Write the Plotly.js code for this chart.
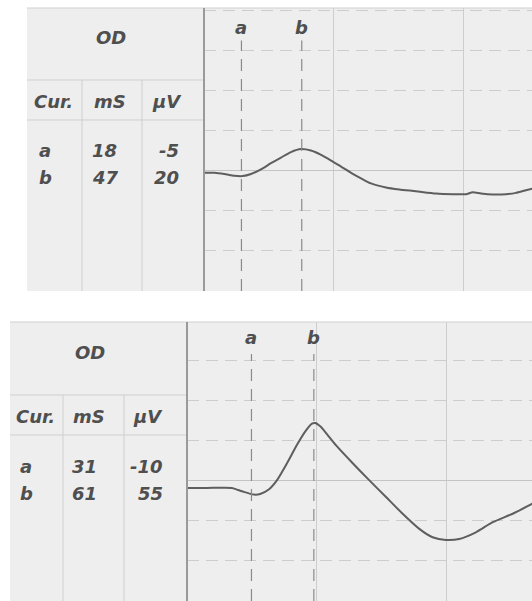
<!DOCTYPE html>
<html>
<head>
<meta charset="utf-8">
<script src="https://cdn.plot.ly/plotly-3.0.1.min.js"></script>
<style>
html,body{margin:0;padding:0;background:#ffffff;}
#chart{width:532px;height:601px;}
</style>
</head>
<body>
<div id="chart"></div>
<script>
// ---------- data ----------
const eyeLabel = 'OD';
const tableHeaders = ['Cur.', 'mS', 'µV'];
const cursorNames = ['a', 'b'];

// top recording
const topCursorMs = [18, 47];
const topCursorUv = [-5, 20];
const topTimeMs = [0, 5, 9.8, 14.6, 18.6, 22.6, 27.4, 32.2, 37.0, 41.8, 46.6, 51.4, 56.3, 61.1, 65.9, 70.7, 75.5, 80.3, 87.5, 93.9, 101.9, 111.5, 119.6, 126.0, 129.2, 133.2, 138.8, 145.2, 150.0, 154.8, 158.2];
const topAmpUv  = [-2.5, -2.5, -3.6, -5.2, -5.5, -3.6, 0.6, 6.1, 11.2, 16.1, 18.8, 17.5, 13.6, 8.5, 3.0, -2.5, -7.5, -12.1, -15.7, -17.5, -19.1, -21.2, -21.8, -21.8, -20.0, -21.2, -22.1, -21.8, -20.6, -18.2, -16.6];

// bottom recording
const botCursorMs = [31, 61];
const botCursorUv = [-10, 55];
const botTimeMs = [0, 9.6, 21.6, 24.0, 27.3, 32.1, 35.2, 39.3, 43.3, 48.1, 52.9, 56.9, 60.1, 61.7, 64.1, 67.3, 71.6, 79.7, 87.6, 95.7, 103.7, 111.7, 118.1, 124.5, 130.9, 138.9, 147.0, 156.6, 166.2];
const botAmpUv  = [-7.0, -7.0, -7.0, -8.5, -10.6, -13.0, -12.5, -8.5, 0, 15.2, 31.8, 43.9, 50.9, 51.5, 48.5, 41.5, 31.5, 15.2, 0, -15.2, -30.3, -43.9, -51.5, -53.9, -53.0, -47.0, -37.9, -30.3, -21.2];

// ---------- geometry helpers (pixels -> paper) ----------
const W = 532, H = 601;
const px = x => x / W;
const py = y => 1 - y / H;

const panelBg = '#eeeeee';
const gridCol = '#cdcdcd';
const tableLine = '#cfcfcf';
const textCol = '#4f4f4f';
const traceCol = '#5e5e5e';
const FONT = 'DejaVu Sans';
const FS = 18;

// panel definitions (positions only)
const panels = [
  {xa: 'x', ya: 'y', t: {left: 27, top: 8, right: 204, bottom: 291, r1: 80, r2: 120, c1: 82, c2: 142,
     odX: 111, odY: 38, hY: 102, hX: [53, 110, 167], rowY: [150, 178], nameX: 37, msX: 90, uvX: 181},
   cursorsMs: topCursorMs, cursorsUv: topCursorUv, labelY: 0.932},
  {xa: 'x2', ya: 'y2', t: {left: 10, top: 322, right: 187, bottom: 601, r1: 395, r2: 435, c1: 63, c2: 124,
     odX: 90, odY: 352, hY: 416, hX: [35, 89, 148], rowY: [466, 493], nameX: 18, msX: 70, uvX: 165},
   cursorsMs: botCursorMs, cursorsUv: botCursorUv, labelY: 0.945}
];

const shapes = [];
const annotations = [];

function txt(x, y, text, anchor) {
  annotations.push({
    xref: 'paper', yref: 'paper', x: px(x), y: py(y), text: text,
    showarrow: false, xanchor: anchor, yanchor: 'middle',
    font: {family: FONT, size: FS, color: textCol, weight: 'bold', style: 'italic'}
  });
}

panels.forEach(p => {
  const t = p.t;
  shapes.push({type: 'rect', xref: 'paper', yref: 'paper', layer: 'below',
    x0: px(t.left), x1: px(t.right), y0: py(t.bottom), y1: py(t.top),
    fillcolor: panelBg, line: {width: 0}});
  const hl = (y, x0, x1, c, w) => shapes.push({type: 'line', xref: 'paper', yref: 'paper',
    x0: px(x0), x1: px(x1), y0: py(y), y1: py(y), line: {color: c, width: w}});
  const vl = (x, y0, y1, c, w) => shapes.push({type: 'line', xref: 'paper', yref: 'paper',
    x0: px(x), x1: px(x), y0: py(y0), y1: py(y1), line: {color: c, width: w}});
  hl(t.top, t.left, W, '#d0d0d0', 1);
  hl(t.r1, t.left, t.right, tableLine, 1);
  hl(t.r2, t.left, t.right, tableLine, 1);
  vl(t.c1, t.r1, t.bottom, tableLine, 1);
  vl(t.c2, t.r1, t.bottom, tableLine, 1);
  vl(t.right, t.top, t.bottom, '#9a9a9a', 2);

  txt(t.odX, t.odY, eyeLabel, 'center');
  tableHeaders.forEach((h, i) => txt(t.hX[i], t.hY, h, 'center'));
  cursorNames.forEach((n, i) => {
    txt(t.nameX, t.rowY[i], n, 'left');
    txt(t.msX, t.rowY[i], String(p.cursorsMs[i]), 'left');
    txt(t.uvX, t.rowY[i], String(p.cursorsUv[i]), 'right');
  });

  cursorNames.forEach((n, i) => {
    shapes.push({type: 'line', xref: p.xa, yref: p.ya + ' domain',
      x0: p.cursorsMs[i], x1: p.cursorsMs[i], y0: 0, y1: 0.885,
      line: {color: '#8a8a8a', width: 1.2, dash: '12px,8px'}});
    annotations.push({xref: p.xa, yref: p.ya + ' domain', x: p.cursorsMs[i], y: p.labelY,
      text: n, showarrow: false, xanchor: 'center', yanchor: 'middle',
      font: {family: FONT, size: FS, color: textCol, weight: 'bold', style: 'italic'}});
  });
});

const traceStyle = {mode: 'lines', line: {color: traceCol, width: 2, shape: 'spline', smoothing: 0.6}, hoverinfo: 'skip', showlegend: false};
const data = [
  Object.assign({x: topTimeMs, y: topAmpUv, xaxis: 'x', yaxis: 'y'}, traceStyle),
  Object.assign({x: botTimeMs, y: botAmpUv, xaxis: 'x2', yaxis: 'y2'}, traceStyle)
];

const xBase = {showticklabels: false, ticks: '', zeroline: false, showline: false,
  showgrid: true, gridcolor: gridCol, gridwidth: 1, tick0: 0, dtick: 62.5, fixedrange: true};
const yBase = {showticklabels: false, ticks: '', showgrid: true, gridcolor: gridCol, gridwidth: 1,
  griddash: '12px,7px', tick0: 0, dtick: 36, zeroline: true, zerolinecolor: '#c4c4c4', zerolinewidth: 1,
  showline: false, fixedrange: true};

const layout = {
  width: W, height: H,
  margin: {l: 0, r: 0, t: 0, b: 0, pad: 0},
  paper_bgcolor: '#ffffff',
  plot_bgcolor: panelBg,
  showlegend: false,
  xaxis: Object.assign({}, xBase, {domain: [px(204), 1], range: [0, 157.7], anchor: 'y'}),
  yaxis: Object.assign({}, yBase, {domain: [py(291), py(8)], range: [-108.9, 145.8], anchor: 'x'}),
  xaxis2: Object.assign({}, xBase, {domain: [px(187), 1], range: [0, 165.9], anchor: 'y2'}),
  yaxis2: Object.assign({}, yBase, {domain: [0, py(322)], range: [-108.9, 142.5], anchor: 'x2'}),
  shapes: shapes,
  annotations: annotations
};

Plotly.newPlot('chart', data, layout, {staticPlot: true, displayModeBar: false});
</script>
</body>
</html>
